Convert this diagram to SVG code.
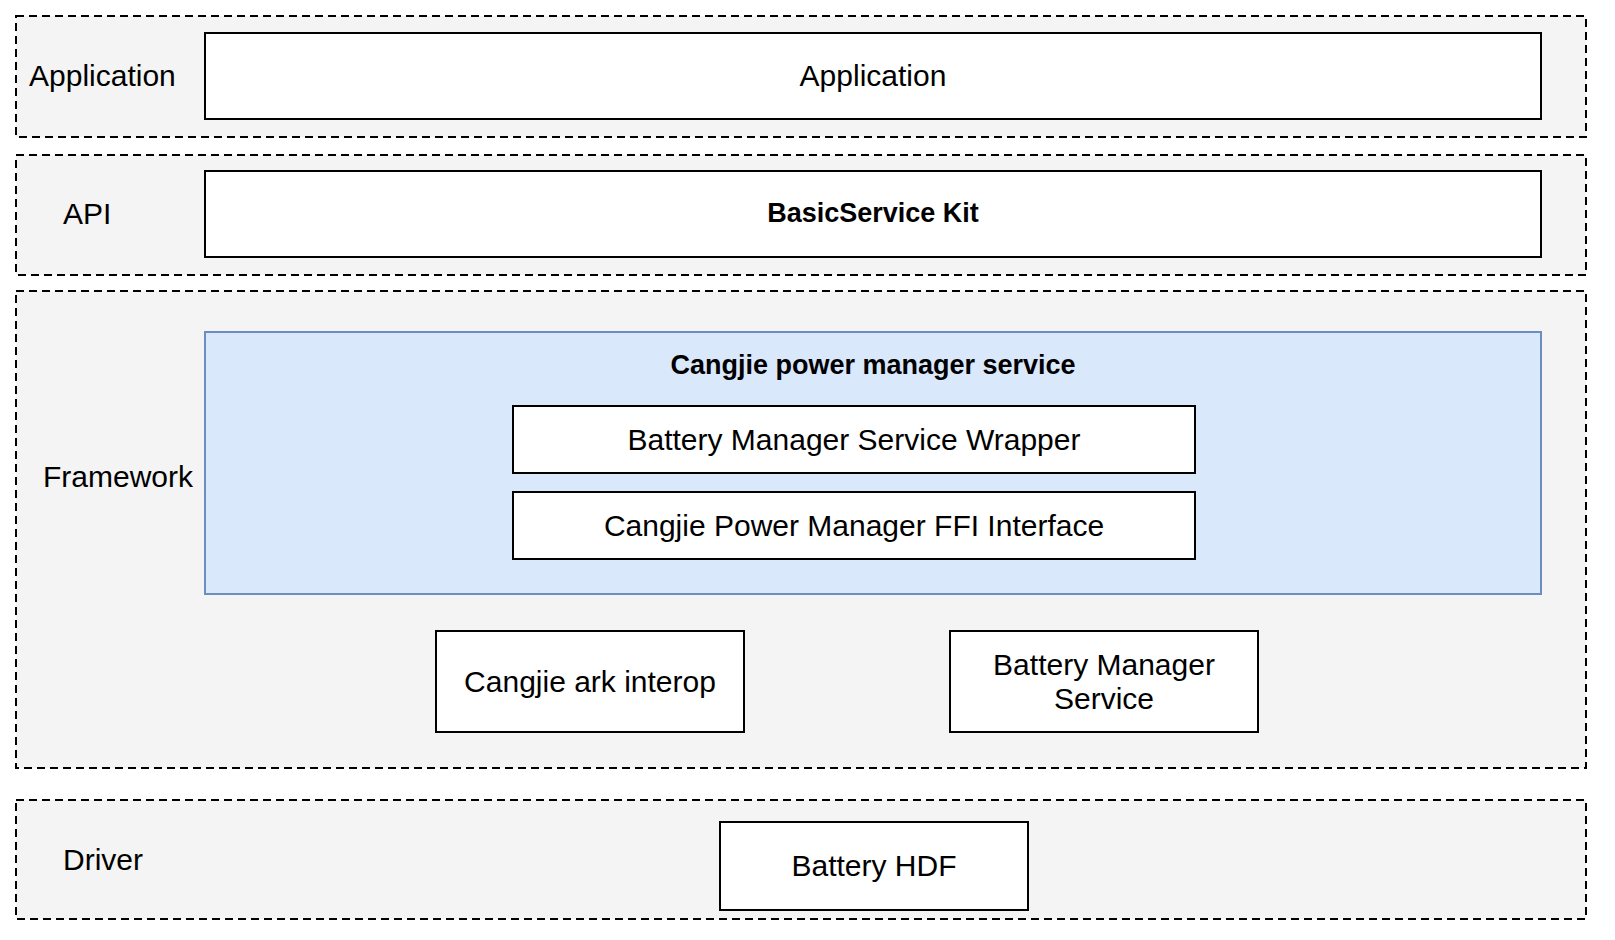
<svg xmlns="http://www.w3.org/2000/svg" width="1615" height="940" viewBox="0 0 1615 940">
<style>
.band{fill:#f4f4f4;stroke:#000;stroke-width:2;stroke-dasharray:8 5}
.box{fill:#fff;stroke:#000;stroke-width:2}
.blue{fill:#dae8fc;stroke:#6c8ebf;stroke-width:2}
text{font-family:"Liberation Sans",Arial,sans-serif;font-size:30px;fill:#000}
.c{text-anchor:middle;dominant-baseline:central}
.b{font-weight:bold;font-size:27px}
</style>
<rect width="1615" height="940" fill="#fff"/>
<g id="layer-application">
<rect class="band" x="16" y="16" width="1570" height="121"/>
<text x="29" y="86">Application</text>
</g>
<g id="node-application">
<rect class="box" x="205" y="33" width="1336" height="86"/>
<text class="c" x="873" y="75">Application</text>
</g>
<g id="layer-api">
<rect class="band" x="16" y="155" width="1570" height="120"/>
<text x="63" y="224">API</text>
</g>
<g id="node-basicservice">
<rect class="box" x="205" y="171" width="1336" height="86"/>
<text class="c b" x="873" y="213">BasicService Kit</text>
</g>
<g id="layer-framework">
<rect class="band" x="16" y="291" width="1570" height="477"/>
<text x="43" y="487">Framework</text>
</g>
<g id="node-cangjie-pms">
<rect class="blue" x="205" y="332" width="1336" height="262"/>
<text class="c b" x="873" y="365">Cangjie power manager service</text>
</g>
<g id="node-wrapper">
<rect class="box" x="513" y="406" width="682" height="67"/>
<text class="c" x="854" y="439">Battery Manager Service Wrapper</text>
</g>
<g id="node-ffi">
<rect class="box" x="513" y="492" width="682" height="67"/>
<text class="c" x="854" y="525">Cangjie Power Manager FFI Interface</text>
</g>
<g id="node-ark-interop">
<rect class="box" x="436" y="631" width="308" height="101"/>
<text class="c" x="590" y="681">Cangjie ark interop</text>
</g>
<g id="node-bms">
<rect class="box" x="950" y="631" width="308" height="101"/>
<text class="c" x="1104" y="664">Battery Manager</text>
<text class="c" x="1104" y="698">Service</text>
</g>
<g id="layer-driver">
<rect class="band" x="16" y="800" width="1570" height="119"/>
<text x="63" y="870">Driver</text>
</g>
<g id="node-battery-hdf">
<rect class="box" x="720" y="822" width="308" height="88"/>
<text class="c" x="874" y="865">Battery HDF</text>
</g>
<g id="connectors"></g>
</svg>
